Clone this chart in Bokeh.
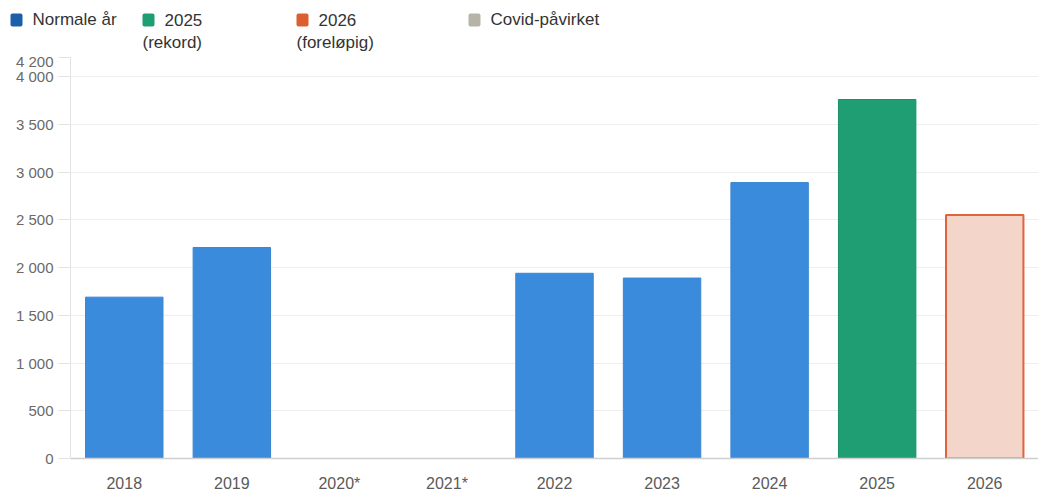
from bokeh.plotting import figure
from bokeh.models import ColumnDataSource, FixedTicker, Range1d
from bokeh.core.properties import value
from bokeh.embed import file_html
from bokeh.resources import INLINE

# ---------------- data ----------------
years = ["2018", "2019", "2020*", "2021*", "2022", "2023", "2024", "2025", "2026"]
counts = [1690, 2210, None, None, 1940, 1890, 2890, 3760, 2550]
groups = ["normal", "normal", "covid", "covid", "normal", "normal", "normal", "record", "prelim"]

y_ticks = [0, 500, 1000, 1500, 2000, 2500, 3000, 3500, 4000, 4200]
y_tick_labels = ["0", "500", "1 000", "1 500", "2 000", "2 500", "3 000", "3 500", "4 000", "4 200"]

legend_lines = [["Normale år"], ["2025", "(rekord)"], ["2026", "(foreløpig)"], ["Covid-påvirket"]]
legend_colors = ["#1b5fa9", "#1f9e74", "#dc5f30", "#b6b3a9"]

# ---------------- styles ----------------
FONT = "Liberation Sans"
fill_by_group = {"normal": "#3a8bdc", "record": "#1f9e74", "prelim": "#f3d5c9", "covid": "#b6b3a9"}
line_by_group = {"normal": "#3b86d0", "record": "#1a8f68", "prelim": "#e0643a", "covid": "#b6b3a9"}
lw_by_group = {"normal": 1, "record": 1, "prelim": 2, "covid": 1}

W, H = 1038, 494
LEG_H = 52
CH_H = H - LEG_H
FL, FT, FB = 70, 57, 460  # frame left / top / bottom on the page

rows = [(y, c, g) for y, c, g in zip(years, counts, groups) if c is not None]
src = ColumnDataSource(dict(
    year=[r[0] for r in rows],
    count=[r[1] for r in rows],
    fill=[fill_by_group[r[2]] for r in rows],
    line=[line_by_group[r[2]] for r in rows],
    lw=[lw_by_group[r[2]] for r in rows],
))

p = figure(x_range=years, y_range=Range1d(0, 4200), width=W, height=CH_H,
           output_backend="svg", toolbar_location=None,
           min_border_left=FL, min_border_right=0,
           min_border_top=FT - LEG_H, min_border_bottom=H - FB)
p.outline_line_color = None
p.vbar(x="year", top="count", width=0.72, source=src,
       fill_color="fill", line_color="line", line_width="lw")

p.xgrid.grid_line_color = None
p.ygrid.ticker = FixedTicker(ticks=y_ticks)
p.ygrid.grid_line_color = "#eeeeee"

ya = p.yaxis[0]
ya.ticker = FixedTicker(ticks=y_ticks)
ya.major_label_overrides = {t: l for t, l in zip(y_ticks, y_tick_labels)}
ya.axis_line_color = "#e2e2e2"
ya.major_tick_line_color = "#e2e2e2"
ya.major_tick_out = 12
ya.major_tick_in = 0
ya.minor_tick_line_color = None
ya.major_label_text_font = FONT
ya.major_label_text_font_size = "15px"
ya.major_label_text_color = "#6a6a6a"
ya.major_label_standoff = 5

xa = p.xaxis[0]
xa.axis_line_color = "#cfcfcf"
xa.axis_line_width = 1.5
xa.major_tick_line_color = None
xa.major_tick_out = 0
xa.major_tick_in = 0
xa.major_label_text_font = FONT
xa.major_label_text_font_size = "16px"
xa.major_label_text_color = "#5a5a5a"
xa.major_label_standoff = 16

# ---------------- legend strip (its own root, pixel-mapped ranges) ----------------
lg = figure(width=W, height=LEG_H, x_range=Range1d(0, W), y_range=Range1d(LEG_H, 0),
            output_backend="svg", toolbar_location=None,
            min_border=0, min_border_left=0, min_border_right=0,
            min_border_top=0, min_border_bottom=0,
            x_axis_type=None, y_axis_type=None)
lg.outline_line_color = None
lg.grid.visible = False

item_left = [10, 142, 296, 468]
mk = 12
txt_off = 22
line1_y = 19
line2_y = 42

lg.quad(left=item_left, right=[x + mk for x in item_left],
        top=[line1_y - 6] * 4, bottom=[line1_y + 7] * 4,
        fill_color=legend_colors, line_color=None, border_radius=2)

tx, ty, tt = [], [], []
for x0, lines in zip(item_left, legend_lines):
    tx.append(x0 + txt_off); ty.append(line1_y); tt.append(lines[0])
    for l in lines[1:]:
        tx.append(x0); ty.append(line2_y); tt.append(l)
lg.text(x=tx, y=ty, text=tt, text_baseline="middle", text_align="left",
        text_font=value(FONT), text_font_size="17px", text_color="#333333")

open("out.html", "w").write(file_html([lg, p], INLINE))
